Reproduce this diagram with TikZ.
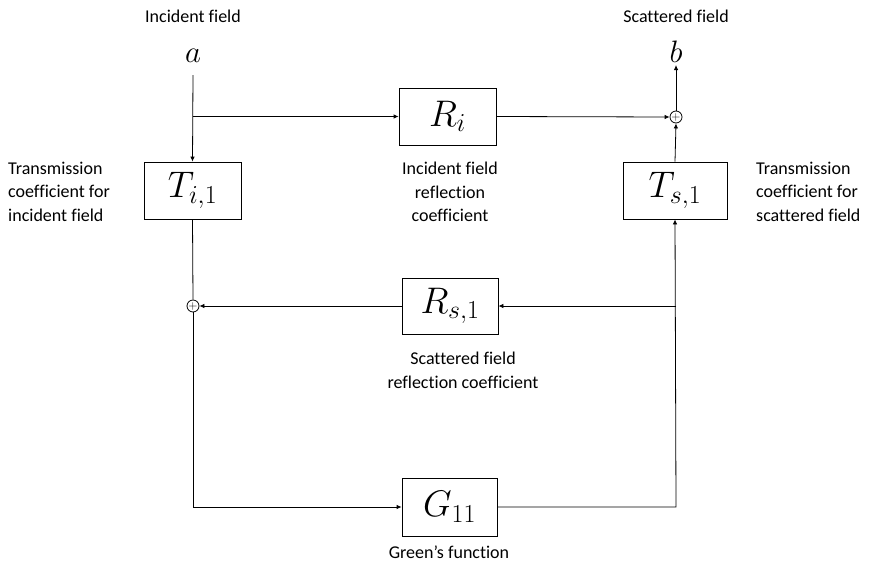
\RequirePackage{fix-cm}
\documentclass[tikz,border=0pt]{standalone}
\usepackage{fontspec}
\setmainfont{Carlito}[Ligatures=NoCommon]
\usetikzlibrary{arrows.meta}
\begin{document}
\begin{tikzpicture}[x=1pt,y=-1pt,
  blk/.style={draw,line width=0.8pt,inner sep=0pt,font=\fontsize{37}{40}\selectfont},
  sumnode/.style={circle,draw,line width=0.8pt,minimum size=12pt,inner sep=0pt,font=\fontsize{12}{12}\selectfont},
  lbl/.style={font=\fontsize{18}{23.8}\selectfont,inner sep=0pt},
  sig/.style={font=\fontsize{31}{32}\selectfont,inner sep=0pt,anchor=base},
  conn/.style={line width=0.8pt},
  arr/.style={line width=0.8pt,-{Latex[length=5pt,width=4.5pt]}}]
\useasboundingbox (0,0) rectangle (880,568);
% blocks
\node[blk,minimum width=97pt,minimum height=57pt] (Ri) at (447.5,116.5) {$R_i$};
\node[blk,minimum width=97pt,minimum height=57pt] (Ti) at (192.5,190.5) {$T_{i,1}$};
\node[blk,minimum width=104pt,minimum height=57pt] (Ts) at (675,190.5) {$T_{s,1}$};
\node[blk,minimum width=96pt,minimum height=56pt] (Rs) at (450,306) {$R_{s,1}$};
\node[blk,minimum width=95pt,minimum height=58pt] (G) at (449.5,507) {$G_{11}$};
% summing junctions
\node[sumnode] (S1) at (676,117) {$+$};
\node[sumnode] (S2) at (193,306) {$+$};
% signals
\node[sig] (a) at (193,62) {$a$};
\node[sig] (b) at (676,62) {$b$};
% labels
\node[lbl,anchor=base] (inc) at (193,22) {Incident field};
\node[lbl,anchor=base] (sca) at (676,22) {Scattered field};
\node[lbl,anchor=north,align=center] (RiL) at (450,161.5) {Incident field\\reflection\\coefficient};
\node[lbl,anchor=north west,align=left] (TiL) at (8,161.5) {Transmission\\coefficient for\\incident field};
\node[lbl,anchor=north west,align=left] (TsL) at (756,161.5) {Transmission\\coefficient for\\scattered field};
\node[lbl,anchor=north,align=center] (RsL) at (463,351.5) {Scattered field\\reflection coefficient};
\node[lbl,anchor=base] (GL) at (449,558) {Green’s function};
% coordinates
\coordinate (aS) at (193,75);
\coordinate (br) at (193,116.5);
\coordinate (bl) at (193,507);
\coordinate (brr) at (676,507);
\coordinate (tap) at (676,306);
\coordinate (bt) at (676,65);
% connectors
\draw[arr] (aS) -- (Ti.north);
\draw[arr] (br) -- (Ri.west);
\draw[arr] (Ri.east) -- (S1.west);
\draw[arr] (Ts.north) -- (S1.south);
\draw[arr] (S1.north) -- (bt);
\draw[conn] (Ti.south) -- (S2.north);
\draw[arr] (S2.south) -- (bl) -- (G.west);
\draw[arr] (G.east) -- (brr) -- (Ts.south);
\draw[arr] (tap) -- (Rs.east);
\draw[arr] (Rs.west) -- (S2.east);
\end{tikzpicture}
\end{document}
